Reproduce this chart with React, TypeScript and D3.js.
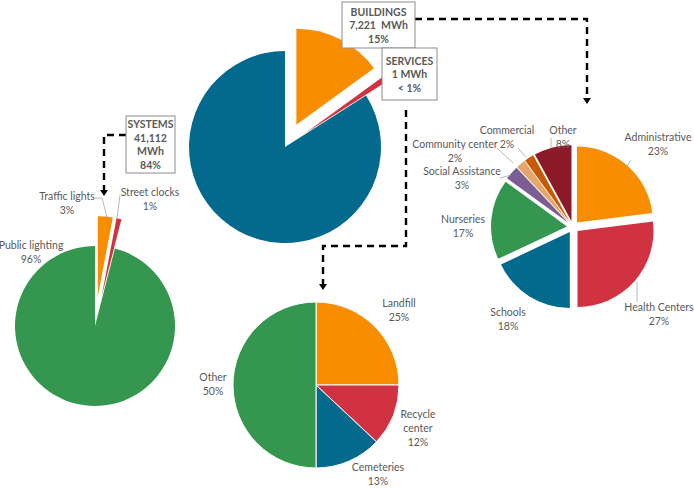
import React from 'react';
import * as d3 from 'd3';

// main split of energy use
const mainNames = ['BUILDINGS', 'SERVICES', 'SYSTEMS'];
const mainShares = [15, 1, 84];
const mainEnergy = ['7,221  MWh', '1 MWh', '41,112 MWh'];
const mainPercent = ['15%', '< 1%', '84%'];

// systems breakdown
const systemNames = ['Traffic lights', 'Street clocks', 'Public lighting'];
const systemShares = [3, 1, 96];

// services breakdown
const serviceNames = ['Landfill', 'Recycle center', 'Cemeteries', 'Other'];
const serviceShares = [25, 12, 13, 50];

// buildings breakdown
const buildingNames = ['Administrative', 'Health Centers', 'Schools', 'Nurseries',
  'Social Assistance', 'Community center', 'Commercial', 'Other'];
const buildingShares = [23, 27, 18, 17, 3, 2, 2, 8];

const ORANGE = '#f98d00';
const RED = '#d13241';
const BLUE = '#036a8d';
const GREEN = '#359650';
const TEXT = '#595959';
const FONT = 'Lato, "Open Sans", sans-serif';

type Label = { dx: number; dy: number; wrap?: boolean };

type PieProps = {
  names: string[];
  shares: number[];
  colors: string[];
  cx: number;
  cy: number;
  r: number;
  explode: number[];
  labels?: Label[];
  leaders?: number[][][];
  stroke?: string;
};

function Pie({ names, shares, colors, cx, cy, r, explode, labels, leaders, stroke }: PieProps) {
  const arcs = d3.pie<number>().sort(null).value(d => d)(shares);
  const arcGen = d3.arc<d3.PieArcDatum<number>>().innerRadius(0).outerRadius(r);
  const line = d3.line();
  return (
    <g transform={`translate(${cx},${cy})`}>
      {arcs.map((a, i) => {
        const mid = (a.startAngle + a.endAngle) / 2;
        const ox = Math.sin(mid) * explode[i];
        const oy = -Math.cos(mid) * explode[i];
        return (
          <path key={i} d={arcGen(a) || ''} transform={`translate(${ox},${oy})`}
            fill={colors[i]} stroke={stroke || 'none'} strokeWidth={stroke ? 1 : 0} />
        );
      })}
      {leaders && leaders.map((pts, i) => (
        pts.length ? <path key={'l' + i} d={line(pts as [number, number][]) || ''}
          fill="none" stroke="#a6a6a6" strokeWidth={0.8} /> : null
      ))}
      {labels && labels.map((lb, i) => {
        const lines = lb.wrap ? names[i].split(' ') : [names[i]];
        lines.push(`${shares[i]}%`);
        return (
          <text key={'t' + i} x={lb.dx} y={lb.dy} fill={TEXT} fontFamily={FONT}
            fontSize={10.5} textAnchor="middle">
            {lines.map((s, j) => (
              <tspan key={j} x={lb.dx} dy={j === 0 ? 0 : 13.8} dominantBaseline="central">{s}</tspan>
            ))}
          </text>
        );
      })}
    </g>
  );
}

function Box({ x, y, w, h, lines }: { x: number; y: number; w: number; h: number; lines: string[] }) {
  const step = 13.5;
  const top = y + h / 2 - ((lines.length - 1) * step) / 2;
  return (
    <g>
      <rect x={x} y={y} width={w} height={h} fill="#fff" stroke="#8c8c8c" strokeWidth={1} />
      <text fill={TEXT} fontFamily={FONT} fontSize={10.5} fontWeight="bold" textAnchor="middle">
        {lines.map((s, j) => (
          <tspan key={j} x={x + w / 2} y={top + j * step} dominantBaseline="central"
            style={{ whiteSpace: 'pre' }}>{s}</tspan>
        ))}
      </text>
    </g>
  );
}

function Connector({ pts }: { pts: [number, number][] }) {
  const last = pts[pts.length - 1];
  return (
    <g>
      <path d={d3.line()(pts) || ''} fill="none" stroke="#000" strokeWidth={2.4} strokeDasharray="7,5" />
      <path d={`M${last[0] - 4},${last[1]} L${last[0] + 4},${last[1]} L${last[0]},${last[1] + 6} Z`} fill="#000" />
    </g>
  );
}

export default function App() {
  const W = 694;
  const H = 488;
  const main = { cx: 285, cy: 147, r: 96 };
  const boxes = [
    { x: 342, y: 2, w: 73, h: 46, wrap: false },
    { x: 382, y: 48, w: 55, h: 52, wrap: false },
    { x: 126, y: 116, w: 49, h: 57, wrap: true },
  ];
  return (
    <svg width={W} height={H} style={{ position: 'absolute', left: 0, top: 0, background: '#fff' }}>
      <Pie names={mainNames} shares={mainShares} colors={[ORANGE, RED, BLUE]}
        cx={main.cx} cy={main.cy} r={main.r} explode={[25, 24, 0]} />

      <Pie names={systemNames} shares={systemShares} colors={[ORANGE, RED, GREEN]}
        cx={95} cy={326} r={80} explode={[30, 30, 0]}
        labels={[{ dx: -28, dy: -130 }, { dx: 55, dy: -134 }, { dx: -64, dy: -81 }]}
        leaders={[[[0, -128], [7, -128], [12, -109]], [[25, -131], [22, -108]], []]} />

      <Pie names={serviceNames} shares={serviceShares} colors={[ORANGE, RED, BLUE, GREEN]}
        cx={316} cy={385} r={83} explode={[0, 0, 0, 0]} stroke="#fff"
        labels={[{ dx: 83, dy: -82 }, { dx: 102, dy: 29, wrap: true }, { dx: 62, dy: 82 }, { dx: -103, dy: -8 }]} />

      <Pie names={buildingNames} shares={buildingShares}
        colors={[ORANGE, RED, BLUE, GREEN, '#7b5e93', '#e6a66a', '#c55b06', '#8c1a28']}
        cx={573} cy={227} r={76} explode={[6, 6, 6, 6, 6, 6, 6, 6]}
        labels={[{ dx: 85, dy: -90 }, { dx: 86, dy: 80 }, { dx: -65, dy: 85 }, { dx: -110, dy: -8 },
          { dx: -111, dy: -56 }, { dx: -118, dy: -83 }, { dx: -66, dy: -97 }, { dx: -10, dy: -97 }]}
        leaders={[[[58, -67], [54, -61]], [[64, 55], [64, 75]], [], [],
          [[-73, -49], [-62, -52]], [[-76, -79], [-60, -64]], [[-55, -79], [-47, -70]], [[-22, -89], [-22, -80]]]} />

      <Connector pts={[[126, 135], [104, 135], [104, 190]]} />
      <Connector pts={[[415, 19], [587, 19], [587, 98]]} />
      <Connector pts={[[406, 110], [406, 246], [323, 246], [323, 284]]} />

      {boxes.map((b, i) => {
        const energy = b.wrap ? mainEnergy[i].split(' ') : [mainEnergy[i]];
        return <Box key={i} x={b.x} y={b.y} w={b.w} h={b.h} lines={[mainNames[i], ...energy, mainPercent[i]]} />;
      })}
    </svg>
  );
}
